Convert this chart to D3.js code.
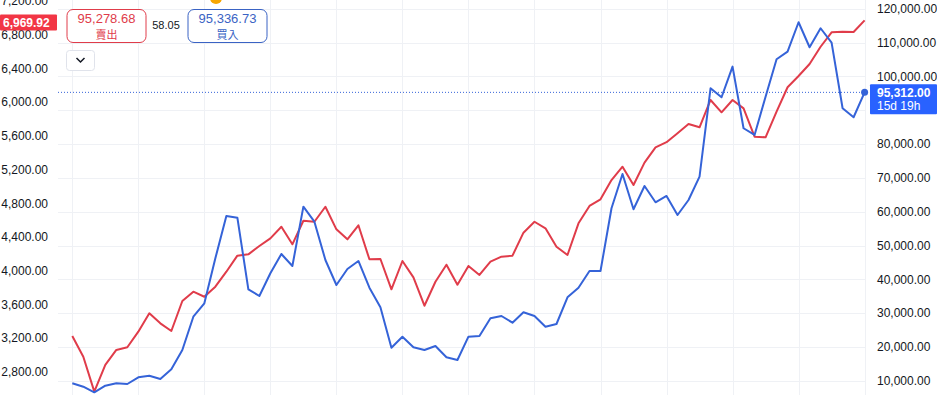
<!DOCTYPE html>
<html>
<head>
<meta charset="utf-8">
<script src="https://cdn.jsdelivr.net/npm/d3@7"></script>
<style>
  html, body { margin: 0; padding: 0; background: #ffffff; overflow: hidden; }
  svg { display: block; font-family: "Liberation Sans", Arial, sans-serif; }
</style>
</head>
<body>
<svg id="chart" width="937" height="395"></svg>
<script>
// ---- data (monthly, Jan 2020 .. Jan 2026) ----
const months = [];
for (let y = 2020; y <= 2026; y++) for (let m = 1; m <= 12; m++) {
  if (y === 2026 && m > 1) break;
  months.push(y + "-" + String(m).padStart(2, "0"));
}
// red series, left axis
const indexValues = [
  3224, 2978, 2563, 2880, 3058, 3090, 3275, 3493, 3374, 3283, 3639, 3750,
  3690, 3809, 3987, 4177, 4193, 4292, 4383, 4521, 4312, 4592, 4580, 4758,
  4490, 4371, 4538, 4134, 4138, 3778, 4114, 3920, 3583, 3868, 4070, 3833,
  4055, 3948, 4106, 4165, 4177, 4450, 4580, 4502, 4284, 4185, 4561, 4767,
  4846, 5075, 5233, 5016, 5281, 5463, 5524, 5630, 5740, 5701, 6025, 5879,
  6025, 5926, 5589, 5582, 5886, 6176, 6310, 6452, 6657, 6828, 6835, 6832,
  6969.92
];
// blue series, right axis
const coinValues = [
  9231, 8225, 6567, 8520, 9231, 9023, 11006, 11480, 10503, 13373, 19084, 28938,
  32903, 46218, 58735, 58232, 37045, 35063, 41780, 47491, 43940, 61487, 57048, 45716,
  38318, 43052, 45419, 37519, 31719, 19765, 23020, 19883, 19084, 20268, 16924, 16125,
  23020, 23227, 28464, 29145, 27162, 30240, 29145, 25979, 26777, 34678, 37519, 42460,
  42460, 61013, 71163, 60717, 67612, 62789, 64653, 59031, 63470, 70364, 96521, 93858,
  102913, 84685, 82703, 94036, 105102, 107351, 116050, 108652, 114275, 110014, 90603, 87940,
  95312
];
const leftTicks = [2800, 3200, 3600, 4000, 4400, 4800, 5200, 5600, 6000, 6400, 6800, 7200];
const rightTicks = [10000, 20000, 30000, 40000, 50000, 60000, 70000, 80000, 90000, 100000, 110000, 120000];
const rightTickShown = [10000, 20000, 30000, 40000, 50000, 60000, 70000, 80000, 100000, 110000, 120000];
const sellPrice = "95,278.68", buyPrice = "95,336.73", spread = "58.05";
const lastIndexLabel = "6,969.92";
const lastCoinLabel = "95,312.00", countdown = "15d 19h";

// ---- drawing ----
const RED = "#e03c4a", BLUE = "#3563d8", GRID = "#eff1f5";
const svg = d3.select("#chart");
const W = 937, H = 395;
const plotL = 58, plotR = 866;

const x = d3.scaleLinear().domain([0, months.length - 1]).range([72.3, 864.6]);
const yL = d3.scaleLinear().domain([2800, 7200]).range([371.7, 1.0]);
const yR = d3.scaleLinear().domain([10000, 120000]).range([380.7, 8.9]);

svg.append("rect").attr("width", W).attr("height", H).attr("fill", "#fff");

// grid
const grid = svg.append("g");
grid.selectAll("line.h").data(rightTicks).join("line")
  .attr("x1", plotL).attr("x2", plotR)
  .attr("y1", d => Math.round(yR(d)) + 0.5).attr("y2", d => Math.round(yR(d)) + 0.5)
  .attr("stroke", GRID).attr("stroke-width", 1);
grid.selectAll("line.v").data(d3.range(0, months.length, 6)).join("line")
  .attr("x1", d => Math.round(x(d)) + 0.5).attr("x2", d => Math.round(x(d)) + 0.5)
  .attr("y1", 0).attr("y2", H)
  .attr("stroke", GRID).attr("stroke-width", 1);

// axes
const leftAxis = d3.axisLeft(yL).tickValues(leftTicks).tickSize(0).tickPadding(0)
  .tickFormat(d3.format(",.2f"));
const gL = svg.append("g").attr("transform", "translate(48,0)").call(leftAxis);
gL.select(".domain").remove();
gL.selectAll("text").attr("font-size", 12).attr("fill", "#131722")
  .attr("font-family", "Liberation Sans, Arial, sans-serif");

const rightAxis = d3.axisRight(yR).tickValues(rightTickShown).tickSize(0).tickPadding(0)
  .tickFormat(d3.format(",.2f"));
const gR = svg.append("g").attr("transform", "translate(877,0)").call(rightAxis);
gR.select(".domain").remove();
gR.selectAll("text").attr("font-size", 12).attr("fill", "#131722")
  .attr("font-family", "Liberation Sans, Arial, sans-serif");

// dotted last price line
const lastY = yR(coinValues[coinValues.length - 1]);
svg.append("line").attr("x1", plotL).attr("x2", plotR).attr("y1", lastY).attr("y2", lastY)
  .attr("stroke", BLUE).attr("stroke-width", 1).attr("stroke-dasharray", "1,2");

// lines
const lineL = d3.line().x((d, i) => x(i)).y(d => yL(d));
const lineR = d3.line().x((d, i) => x(i)).y(d => yR(d));
svg.append("path").datum(indexValues).attr("d", lineL)
  .attr("fill", "none").attr("stroke", RED).attr("stroke-width", 2).attr("stroke-linejoin", "round");
svg.append("path").datum(coinValues).attr("d", lineR)
  .attr("fill", "none").attr("stroke", BLUE).attr("stroke-width", 2).attr("stroke-linejoin", "round");
svg.append("circle").attr("cx", x(coinValues.length - 1)).attr("cy", lastY).attr("r", 3.5).attr("fill", BLUE);

// header (cut off at top)
svg.append("circle").attr("cx", 216).attr("cy", -2).attr("r", 6).attr("fill", "#f7a600");

// left red price label
const lastRedY = yL(indexValues[indexValues.length - 1]);
svg.append("rect").attr("x", 0).attr("y", lastRedY - 6).attr("width", 57).attr("height", 16)
  .attr("fill", "#f23645").attr("rx", 1);
svg.append("text").attr("x", 3).attr("y", lastRedY + 6.5).text(lastIndexLabel)
  .attr("font-size", 12).attr("font-weight", "bold").attr("fill", "#fff");

// right blue price label
svg.append("rect").attr("x", 870).attr("y", lastY - 8).attr("width", 67).attr("height", 30)
  .attr("fill", "#2962ff").attr("rx", 1);
svg.append("text").attr("x", 877).attr("y", lastY + 5).text(lastCoinLabel)
  .attr("font-size", 12).attr("font-weight", "bold").attr("fill", "#fff");
svg.append("text").attr("x", 877).attr("y", lastY + 18).text(countdown)
  .attr("font-size", 12).attr("fill", "#fff");

// sell / buy buttons
function btn(x0, color, price, label) {
  svg.append("rect").attr("x", x0 + 0.5).attr("y", 9.5).attr("width", 79).attr("height", 33)
    .attr("rx", 6).attr("fill", "#fff").attr("stroke", color).attr("stroke-width", 1);
  svg.append("text").attr("x", x0 + 40).attr("y", 23).attr("text-anchor", "middle")
    .attr("font-size", 13).attr("fill", color).text(price);
  svg.append("text").attr("x", x0 + 40).attr("y", 38.5).attr("text-anchor", "middle")
    .attr("font-size", 11).attr("fill", color)
    .attr("font-family", "Noto Sans CJK TC, sans-serif").text(label);
}
btn(66.5, "#e03c4a", sellPrice, "賣出");
btn(187.5, "#3a63c4", buyPrice, "買入");
svg.append("text").attr("x", 166).attr("y", 29).attr("text-anchor", "middle")
  .attr("font-size", 11).attr("fill", "#131722").text(spread);

// dropdown button
svg.append("rect").attr("x", 66.5).attr("y", 50.5).attr("width", 28).attr("height", 20)
  .attr("rx", 3).attr("fill", "#fff").attr("stroke", "#e0e3eb");
svg.append("path").attr("d", "M76.5,58 L80.5,62 L84.5,58")
  .attr("fill", "none").attr("stroke", "#131722").attr("stroke-width", 1.5);
</script>
</body>
</html>
